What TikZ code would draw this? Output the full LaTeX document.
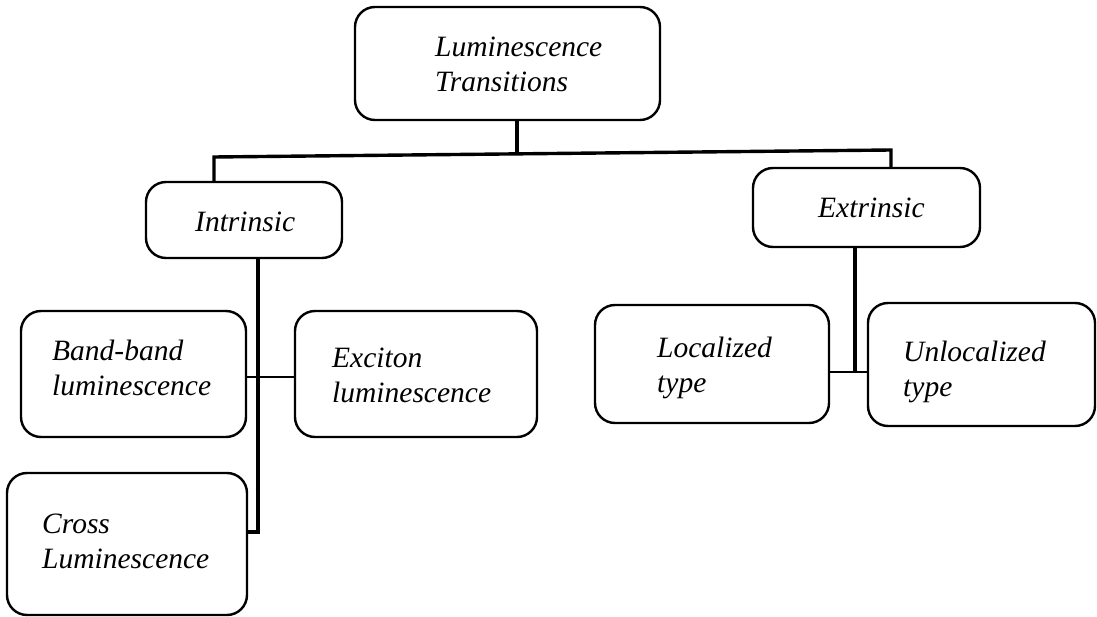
\documentclass[tikz,border=0pt]{standalone}
\usepackage{fontspec}
\setmainfont{Liberation Serif}
\begin{document}
\begin{tikzpicture}[x=1pt,y=-1pt,
  box/.style={draw=black, line width=2.4pt, rounded corners=20pt, inner sep=0pt},
  lbl/.style={font=\itshape\fontsize{29.5}{35}\selectfont, align=left, inner sep=0pt, anchor=base west},
  conn/.style={draw=black, line width=3.4pt},
  thin conn/.style={draw=black, line width=2.8pt}]
\useasboundingbox (0,0) rectangle (1097,617);
% boxes
\node[box, minimum width=305pt, minimum height=113pt] (top) at (507.5,63.5) {};
\node[box, minimum width=196pt, minimum height=76pt] (intr) at (244,220) {};
\node[box, minimum width=227pt, minimum height=79pt] (extr) at (866.5,207.5) {};
\node[box, minimum width=225pt, minimum height=126pt] (band) at (133.5,374) {};
\node[box, minimum width=242pt, minimum height=126pt] (exc) at (416,374) {};
\node[box, minimum width=240pt, minimum height=142pt] (cross) at (127,544) {};
\node[box, minimum width=234pt, minimum height=118pt] (loc) at (712,364) {};
\node[box, minimum width=227pt, minimum height=123pt] (unloc) at (981.5,364.5) {};
% texts (anchor = baseline of the last line)
\node[lbl] (topt) at (435,92) {Luminescence\\Transitions};
\node[lbl] (intrt) at (195,232) {Intrinsic};
\node[lbl] (extrt) at (818,218) {Extrinsic};
\node[lbl] (bandt) at (52,395) {Band-band\\luminescence};
\node[lbl] (exct) at (332,402) {Exciton\\luminescence};
\node[lbl] (crosst) at (42,568) {Cross\\Luminescence};
\node[lbl] (loct) at (657,392) {Localized\\type};
\node[lbl] (unloct) at (903,396) {Unlocalized\\type};
% junction coordinates
\coordinate (L) at (214,157);
\coordinate (R) at (891,150);
\coordinate (J) at (517,153);
\coordinate (T) at (258,532);
\coordinate (B) at (258,377);
\coordinate (E) at (855,372);
% connectors
\draw[conn] (J |- top.south) -- (J);
\draw[conn] (intr.north -| L) -- (L) -- (R) -- (extr.north -| R);
\draw[conn] (intr.south -| T) -- (T) -- (cross.east |- T);
\draw[thin conn] (band.east |- B) -- (exc.west |- B);
\draw[conn] (extr.south -| E) -- (E);
\draw[thin conn] (loc.east |- E) -- (unloc.west |- E);
\end{tikzpicture}
\end{document}
